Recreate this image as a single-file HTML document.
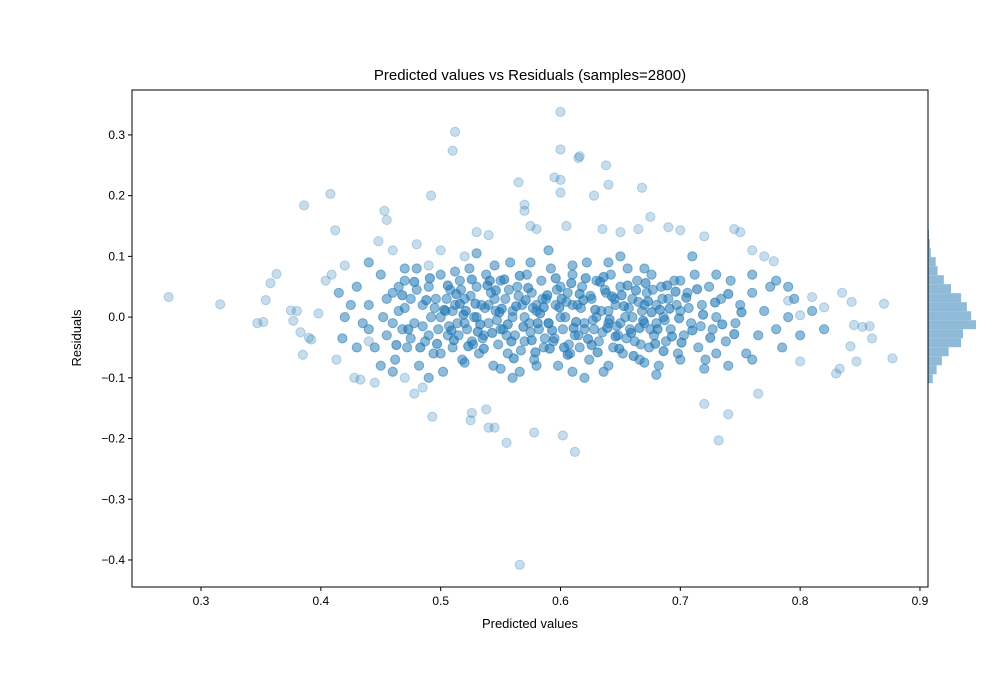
<!DOCTYPE html>
<html><head><meta charset="utf-8"><style>
body{margin:0;background:#fff;}
svg{display:block;font-family:"Liberation Sans","DejaVu Sans",sans-serif;}
</style></head><body>
<svg id="chart" width="1000" height="700" xmlns="http://www.w3.org/2000/svg">
<rect width="1000" height="700" fill="#fff"/>
<text x="530" y="80" text-anchor="middle" font-size="15" fill="#000">Predicted values vs Residuals (samples=2800)</text>
<g id="points"></g>
<g id="hist"></g>
<g id="axes"></g>
<text x="530" y="628" text-anchor="middle" font-size="13">Predicted values</text>
<text x="81" y="338" text-anchor="middle" font-size="13" transform="rotate(-90 81 338)">Residuals</text>
</svg>
<script>
const xTicks=[0.3,0.4,0.5,0.6,0.7,0.8,0.9];
const yTicks=[0.3,0.2,0.1,0.0,-0.1,-0.2,-0.3,-0.4];
const outliers=[[0.273,0.033],[0.316,0.021],[0.347,-0.01],[0.352,-0.008],[0.354,0.028],[0.358,0.056],[0.363,0.071],[0.375,0.011],[0.377,-0.006],[0.38,0.01],[0.383,-0.025],[0.385,-0.062],[0.386,0.184],[0.39,-0.034],[0.392,-0.037],[0.398,0.006],[0.404,0.06],[0.408,0.203],[0.409,0.07],[0.412,0.143],[0.413,-0.07],[0.42,0.085],[0.428,-0.1],[0.433,-0.103],[0.44,-0.04],[0.445,-0.108],[0.448,0.125],[0.453,0.175],[0.455,0.16],[0.47,-0.1],[0.478,-0.126],[0.485,-0.116],[0.492,0.2],[0.493,-0.164],[0.51,0.274],[0.512,0.305],[0.525,-0.17],[0.526,-0.158],[0.538,-0.152],[0.54,-0.182],[0.545,-0.182],[0.555,-0.207],[0.565,0.222],[0.57,0.185],[0.578,-0.19],[0.566,-0.408],[0.595,0.23],[0.6,0.338],[0.6,0.276],[0.6,0.226],[0.6,0.205],[0.602,-0.195],[0.612,-0.222],[0.615,0.262],[0.616,0.265],[0.628,0.2],[0.638,0.25],[0.64,0.218],[0.668,0.213],[0.732,-0.203],[0.74,-0.16],[0.72,-0.143],[0.765,-0.126],[0.8,-0.073],[0.83,-0.093],[0.833,-0.085],[0.842,-0.048],[0.847,-0.073],[0.845,-0.013],[0.852,-0.016],[0.858,-0.015],[0.86,-0.035],[0.877,-0.068],[0.87,0.022],[0.843,0.025],[0.835,0.04],[0.82,0.016],[0.81,0.033],[0.8,0.003],[0.79,0.027],[0.77,0.1],[0.778,0.092],[0.76,0.11],[0.745,0.145],[0.75,0.14],[0.72,0.133],[0.7,0.143],[0.69,0.148],[0.675,0.165],[0.665,0.145],[0.57,0.175],[0.575,0.15],[0.58,0.145],[0.54,0.135],[0.53,0.14],[0.605,0.15],[0.635,0.145],[0.65,0.14],[0.49,0.085],[0.48,0.12],[0.5,0.11],[0.52,0.1],[0.46,0.11]];
const corePoints=[
[0.43,0.05],[0.435,-0.01],[0.44,0.02],[0.445,-0.05],[0.45,0.07],[0.452,0.0],[0.455,-0.03],[0.46,0.04],[0.462,-0.07],[0.465,0.01],[0.468,-0.02],[0.47,0.06],[0.472,-0.05],[0.475,0.03],[0.478,-0.01],[0.48,0.08],[0.482,-0.08],[0.485,0.02],[0.487,-0.04],[0.49,0.05],[0.492,0.0],[0.494,-0.06],[0.496,0.03],[0.498,-0.02],[0.5,0.07],[0.502,-0.09],[0.504,0.01],[0.506,-0.03],[0.508,0.045],[0.51,-0.05],[0.512,0.02],[0.514,-0.01],[0.516,0.06],[0.518,-0.07],[0.52,0.03],[0.522,-0.02],[0.524,0.08],[0.526,-0.04],[0.528,0.0],[0.53,0.05],[0.532,-0.06],[0.534,0.02],[0.536,-0.03],[0.538,0.07],[0.54,-0.01],[0.542,0.04],[0.544,-0.08],[0.546,0.01],[0.548,-0.045],[0.55,0.06],[0.552,-0.02],[0.554,0.03],[0.556,-0.06],[0.558,0.09],[0.56,0.0],[0.562,-0.03],[0.564,0.05],[0.566,-0.09],[0.568,0.02],[0.57,-0.04],[0.572,0.07],[0.574,-0.01],[0.576,0.04],[0.578,-0.07],[0.58,0.01],[0.582,-0.02],[0.584,0.06],[0.586,-0.05],[0.588,0.03],[0.59,-0.01],[0.592,0.08],[0.594,-0.04],[0.596,0.02],[0.598,-0.08],[0.6,0.05],[0.602,-0.02],[0.604,0.0],[0.606,0.04],[0.608,-0.06],[0.61,0.07],[0.612,-0.03],[0.614,0.02],[0.616,-0.05],[0.618,0.05],[0.62,-0.01],[0.622,0.09],[0.624,-0.07],[0.626,0.03],[0.628,-0.02],[0.63,0.06],[0.632,-0.04],[0.634,0.01],[0.636,-0.09],[0.638,0.04],[0.64,-0.01],[0.642,0.07],[0.644,-0.05],[0.646,0.02],[0.648,-0.03],[0.65,0.05],[0.652,-0.06],[0.654,0.0],[0.656,0.08],[0.658,-0.02],[0.66,0.03],[0.662,-0.04],[0.664,0.06],[0.666,-0.07],[0.668,0.01],[0.67,-0.01],[0.672,0.04],[0.674,-0.05],[0.676,0.07],[0.678,-0.03],[0.68,0.02],[0.682,-0.08],[0.684,0.05],[0.686,0.0],[0.688,-0.04],[0.69,0.03],[0.692,-0.02],[0.695,0.06],[0.698,-0.06],[0.7,0.01],[0.703,-0.03],[0.706,0.04],[0.709,-0.01],[0.712,0.07],[0.715,-0.05],[0.718,0.02],[0.721,-0.07],[0.724,0.05],[0.727,-0.02],[0.73,0.0],[0.734,0.03],[0.738,-0.04],[0.742,0.06],[0.746,-0.01],[0.75,0.02],[0.755,-0.06],[0.76,0.04],[0.765,-0.03],[0.77,0.01],[0.775,0.05],[0.78,-0.02],[0.785,-0.05],[0.79,0.0],[0.795,0.03],
[0.5,0.0],[0.51,0.01],[0.52,-0.01],[0.53,0.0],[0.54,0.02],[0.55,-0.02],[0.56,0.01],[0.57,0.0],[0.58,0.02],[0.59,-0.01],[0.6,0.0],[0.61,0.02],[0.62,-0.02],[0.63,0.0],[0.64,0.01],[0.65,-0.01],[0.66,0.0],[0.67,0.02],[0.68,-0.01],[0.505,0.03],[0.515,-0.03],[0.525,0.035],[0.535,-0.035],[0.545,0.03],[0.555,-0.03],[0.565,0.035],[0.575,-0.025],[0.585,0.03],[0.595,-0.035],[0.605,0.025],[0.615,-0.03],[0.625,0.035],[0.635,-0.025],[0.645,0.03],[0.655,-0.035],[0.665,0.025],[0.675,-0.02],[0.685,0.03],[0.495,0.015],[0.507,-0.015],[0.517,0.045],[0.527,-0.045],[0.537,0.015],[0.547,-0.005],[0.557,0.045],[0.567,-0.055],[0.577,0.015],[0.587,-0.035],[0.597,0.045],[0.607,-0.045],[0.617,0.015],[0.627,-0.005],[0.637,0.045],[0.647,-0.015],[0.657,0.015],[0.667,-0.045],[0.677,0.045],[0.687,-0.005],[0.697,0.02],[0.707,0.015],[0.717,-0.015],[0.47,0.015],[0.475,-0.035],[0.48,0.045],[0.485,-0.015],[0.49,-0.03],[0.455,0.03],[0.46,-0.01],[0.465,0.05],[0.44,-0.02],[0.425,0.02],[0.43,-0.05],[0.42,0.0],[0.415,0.04],[0.418,-0.035],
[0.512,0.075],[0.545,0.085],[0.575,0.09],[0.61,0.085],[0.64,0.09],[0.67,0.08],[0.7,0.06],[0.73,0.07],[0.52,-0.075],[0.55,-0.085],[0.58,-0.08],[0.61,-0.09],[0.64,-0.08],[0.67,-0.075],[0.7,-0.07],[0.73,-0.06],[0.5,-0.06],[0.47,0.08],[0.45,-0.08],[0.76,0.07],[0.78,0.06],[0.74,-0.08],[0.76,-0.07],[0.8,-0.03],[0.81,0.01],[0.82,-0.02],[0.79,0.05],[0.44,0.09],[0.46,-0.09],[0.49,-0.1],[0.53,0.105],[0.56,-0.1],[0.59,0.11],[0.62,-0.1],[0.65,0.1],[0.68,-0.095],[0.71,0.1],[0.72,-0.085]
];
const densePoints=[
[0.503,0.012],[0.509,-0.022],[0.513,0.038],[0.519,0.004],[0.523,-0.048],[0.529,0.022],[0.533,-0.012],[0.539,0.052],[0.543,-0.026],[0.549,0.008],[0.553,0.062],[0.559,-0.04],[0.563,0.018],[0.569,-0.016],[0.573,0.048],[0.579,-0.058],[0.583,0.006],[0.589,0.036],[0.593,-0.022],[0.599,0.016],[0.603,-0.05],[0.609,0.056],[0.613,-0.008],[0.619,0.028],[0.623,-0.036],[0.629,0.012],[0.633,0.058],[0.639,-0.018],[0.643,0.034],[0.649,-0.052],[0.653,0.018],[0.659,-0.026],[0.663,0.044],[0.669,-0.006],[0.673,0.026],[0.679,-0.044],[0.683,0.012],[0.689,0.052],[0.693,-0.032],[0.699,-0.002],
[0.506,0.052],[0.516,0.022],[0.526,0.062],[0.536,-0.052],[0.546,0.044],[0.556,-0.012],[0.566,0.068],[0.576,-0.038],[0.586,0.016],[0.596,0.064],[0.606,-0.062],[0.616,0.038],[0.626,-0.046],[0.636,0.066],[0.646,-0.032],[0.656,0.052],[0.666,-0.018],[0.676,0.008],[0.686,-0.056],[0.696,0.042],
[0.511,-0.038],[0.521,0.01],[0.531,-0.024],[0.541,0.06],[0.551,0.014],[0.561,-0.068],[0.571,0.028],[0.581,-0.01],[0.591,-0.052],[0.601,0.03],[0.611,-0.018],[0.621,0.064],[0.631,-0.058],[0.641,-0.004],[0.651,0.036],[0.661,-0.064],[0.671,0.056],[0.681,-0.02],[0.691,0.014],[0.701,-0.042],
[0.488,0.028],[0.483,-0.05],[0.478,0.058],[0.473,-0.02],[0.468,0.036],[0.463,-0.046],[0.497,-0.044],[0.491,0.064],[0.705,0.032],[0.71,-0.022],[0.714,0.046],[0.719,0.004],[0.725,-0.034],[0.729,0.024],[0.735,-0.012],[0.74,0.038],[0.745,-0.028],[0.751,0.008]
];
const histCounts=[1,1,1,2,4,6,16,20,33,48,69,81,90,100,73,69,43,29,18,10,1,1];
const histStart=0.1877, histBin=0.01483;

const X0=132,X1=928,Y0=90,Y1=587;
const xMin=0.2424,xMax=0.9067,yMin=-0.4445,yMax=0.374;
function sx(v){return X0+(v-xMin)/(xMax-xMin)*(X1-X0);}
function sy(v){return Y1-(v-yMin)/(yMax-yMin)*(Y1-Y0);}
const NS="http://www.w3.org/2000/svg";
function mk(tag,attrs,parent){const e=document.createElementNS(NS,tag);for(const k in attrs)e.setAttribute(k,attrs[k]);parent.appendChild(e);return e;}
const pg=document.getElementById('points');
function drawPts(list,op){
  list.forEach(p=>{
    const c=mk('circle',{cx:sx(p[0]),cy:sy(p[1]),r:4.6,fill:'#1f77b4','fill-opacity':op,stroke:'#1f77b4','stroke-opacity':op+0.03,'stroke-width':1},pg);
    
    
  });
}
drawPts(outliers,0.25);
drawPts(corePoints,0.5);
drawPts(densePoints,0.6);
const hg=document.getElementById('hist');
const hMax=Math.max(...histCounts);
histCounts.forEach((n,i)=>{
  const top=histStart-i*histBin;
  const yTop=sy(top), yBot=sy(top-histBin);
  const r=mk('rect',{x:928,y:yTop,width:n/hMax*48,height:yBot-yTop,fill:'#8fbbd9'},hg);
  
  
});
const ag=document.getElementById('axes');
const frame=mk('rect',{x:X0,y:Y0,width:X1-X0,height:Y1-Y0,fill:'none',stroke:'#000','stroke-width':1},ag);


xTicks.forEach(t=>{
  const x=sx(t);
  mk('line',{x1:x,x2:x,y1:Y1,y2:Y1+4,stroke:'#000'},ag);
  const tx=mk('text',{x:x,y:Y1+18,'text-anchor':'middle','font-size':12},ag);
  tx.textContent=t.toFixed(1);
  
  
});
yTicks.forEach(t=>{
  const y=sy(t);
  mk('line',{x1:X0-4,x2:X0,y1:y,y2:y,stroke:'#000'},ag);
  const tx=mk('text',{x:X0-7,y:y+4,'text-anchor':'end','font-size':12},ag);
  tx.textContent=(t<0?'\u2212':'')+Math.abs(t).toFixed(1);
  
  
});
</script>
</body></html>
